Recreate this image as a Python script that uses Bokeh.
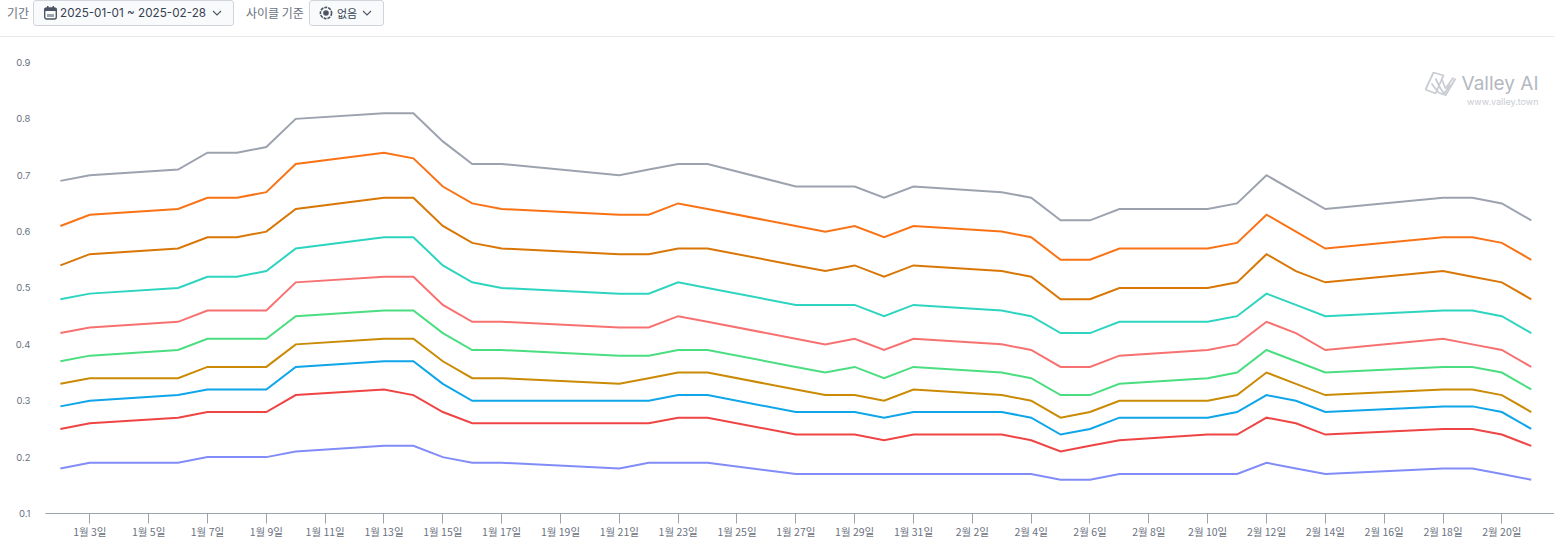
from bokeh.plotting import figure
from bokeh.models import Range1d, FixedTicker, Label, Div, LinearAxis
from bokeh.layouts import column
from bokeh.embed import file_html
from bokeh.resources import INLINE

# (month, day) of each sample
dates = [(1,2),(1,3),(1,6),(1,7),(1,8),(1,9),(1,10),(1,13),(1,14),(1,15),(1,16),(1,17),
         (1,21),(1,22),(1,23),(1,24),(1,27),(1,28),(1,29),(1,30),(1,31),
         (2,3),(2,4),(2,5),(2,6),(2,7),(2,10),(2,11),(2,12),(2,13),(2,14),(2,18),(2,19),(2,20),(2,21)]

gray = [.69,.70,.71,.74,.74,.75,.80,.81,.81,.76,.72,.72, .70,.71,.72,.72,.68,.68,.68,.66,.68, .67,.66,
        .62,.62,.64,.64,.65,.70,.67,.64,.66,.66,.65,.62]
orange = [.61,.63,.64,.66,.66,.67,.72,.74,.73,.68,.65,.64, .63,.63,.65,.64,.61,.60,.61,.59,.61, .60,.59,
          .55,.55,.57,.57,.58,.63,.60,.57,.59,.59,.58,.55]
amber = [.54,.56,.57,.59,.59,.60,.64,.66,.66,.61,.58,.57, .56,.56,.57,.57,.54,.53,.54,.52,.54, .53,.52,
         .48,.48,.50,.50,.51,.56,.53,.51,.53,.52,.51,.48]
teal = [.48,.49,.50,.52,.52,.53,.57,.59,.59,.54,.51,.50, .49,.49,.51,.50,.47,.47,.47,.45,.47, .46,.45,
        .42,.42,.44,.44,.45,.49,.47,.45,.46,.46,.45,.42]
coral = [.42,.43,.44,.46,.46,.46,.51,.52,.52,.47,.44,.44, .43,.43,.45,.44,.41,.40,.41,.39,.41, .40,.39,
         .36,.36,.38,.39,.40,.44,.42,.39,.41,.40,.39,.36]
green = [.37,.38,.39,.41,.41,.41,.45,.46,.46,.42,.39,.39, .38,.38,.39,.39,.36,.35,.36,.34,.36, .35,.34,
         .31,.31,.33,.34,.35,.39,.37,.35,.36,.36,.35,.32]
gold = [.33,.34,.34,.36,.36,.36,.40,.41,.41,.37,.34,.34, .33,.34,.35,.35,.32,.31,.31,.30,.32, .31,.30,
        .27,.28,.30,.30,.31,.35,.33,.31,.32,.32,.31,.28]
blue = [.29,.30,.31,.32,.32,.32,.36,.37,.37,.33,.30,.30, .30,.30,.31,.31,.28,.28,.28,.27,.28, .28,.27,
        .24,.25,.27,.27,.28,.31,.30,.28,.29,.29,.28,.25]
red = [.25,.26,.27,.28,.28,.28,.31,.32,.31,.28,.26,.26, .26,.26,.27,.27,.24,.24,.24,.23,.24, .24,.23,
       .21,.22,.23,.24,.24,.27,.26,.24,.25,.25,.24,.22]
periwinkle = [.18,.19,.19,.20,.20,.20,.21,.22,.22,.20,.19,.19, .18,.19,.19,.19,.17,.17,.17,.17,.17, .17,.17,
              .16,.16,.17,.17,.17,.19,.18,.17,.18,.18,.17,.16]

series = [(gray, "#9ca3af"), (orange, "#f97316"), (amber, "#d97706"), (teal, "#2dd4bf"), (coral, "#f87171"),
          (green, "#4ade80"), (gold, "#ca8a04"), (blue, "#0ea5e9"), (red, "#ef4444"), (periwinkle, "#818cf8")]

tick_dates = [(1,d) for d in range(3,32,2)] + [(2,d) for d in range(2,21,2)]
y_ticks = [.1,.2,.3,.4,.5,.6,.7,.8,.9]


def pos(md):
    """Day number counted from 1 January."""
    m, d = md
    return d if m == 1 else 31 + d


xs = [pos(d) for d in dates]

p = figure(width=1554, height=516, output_backend="svg", toolbar_location=None,
           x_range=Range1d(1.494, 52.79), y_range=Range1d(0.1, 0.9443),
           x_axis_type=None, y_axis_type=None, min_border_left=45, min_border_right=0,
           min_border_top=0, min_border_bottom=40, outline_line_color=None,
           background_fill_color="#ffffff", border_fill_color="#ffffff", margin=(0, 0, 0, 0))
p.grid.visible = False

xaxis = LinearAxis(ticker=FixedTicker(ticks=[pos(t) for t in tick_dates]),
                   major_label_overrides={pos(t): f"{t[0]}월 {t[1]}일" for t in tick_dates},
                   axis_line_color="#9ca3af", axis_line_width=1,
                   major_tick_line_color="#9ca3af", major_tick_out=10, major_tick_in=0,
                   minor_tick_line_color=None, major_label_text_color="#6b7280",
                   major_label_text_font="Noto Sans CJK KR", major_label_text_font_size="10.5px",
                   major_label_standoff=0)
p.add_layout(xaxis, "below")

yaxis = LinearAxis(ticker=FixedTicker(ticks=y_ticks), axis_line_color=None, major_tick_line_color=None,
                   minor_tick_line_color=None, major_label_text_color="#6b7280",
                   major_label_text_font="Inter", major_label_text_font_size="9.5px",
                   major_label_standoff=9)
yaxis.major_label_overrides = {t: f"{t:.1f}" for t in y_ticks}
p.add_layout(yaxis, "left")

for vals, color in series:
    p.line(xs, vals, line_color=color, line_width=2, line_join="miter")

# watermark, positioned in page pixels
p.extra_x_ranges["px"] = Range1d(45, 1554)
p.extra_y_ranges["px"] = Range1d(513, 37)
logo_c = "#c9ccd3"
logo_x = [[1425, 1433, 1443, 1435, 1425], [1435, 1440, 1445, 1455], [1431, 1438, 1443, 1450],
          [1441, 1445, 1453]]
logo_y = [[89, 72, 75, 93, 89], [78, 88, 95, 78], [83, 92, 94, 84], [78, 88, 77]]
p.multi_line(logo_x, logo_y, line_color=logo_c, line_width=1.8, x_range_name="px", y_range_name="px")
p.add_layout(Label(x=1538, y=83, text="Valley AI", text_font="Inter", text_font_size="19px",
                   text_color="#b4b8c0", text_align="right", text_baseline="middle",
                   x_range_name="px", y_range_name="px"))
p.add_layout(Label(x=1538, y=101, text="www.valley.town", text_font="Inter", text_font_size="9px",
                   text_color="#c9ccd3", text_align="right", text_baseline="middle",
                   x_range_name="px", y_range_name="px"))

chev = '<svg style="position:absolute;left:{x}px;top:10px" width="10" height="7"><path d="M1 1 L5 5 L9 1" fill="none" stroke="#4b5563" stroke-width="1.1"/></svg>'
cal = ('<svg style="position:absolute;left:44px;top:6px" width="13" height="14"><rect x="0.7" y="2" width="11.6" height="11" rx="2" fill="none" stroke="#4b5563" stroke-width="1.4"/>'
       '<rect x="0.7" y="2" width="11.6" height="3" fill="#4b5563"/><rect x="3" y="0" width="1.5" height="3" fill="#4b5563"/><rect x="8.5" y="0" width="1.5" height="3" fill="#4b5563"/>'
       '<rect x="3" y="8" width="7" height="3" fill="#9ca3af"/></svg>')
globe = ('<svg style="position:absolute;left:319px;top:6px" width="14" height="14"><circle cx="7" cy="7" r="5.6" fill="none" stroke="#4b5563" stroke-width="1.6" stroke-dasharray="3 1"/>'
         '<circle cx="7" cy="7" r="2.8" fill="#4b5563"/></svg>')
base = "position:absolute;white-space:nowrap;color:{c};font:{s}px/{h}px {f};left:{x}px;top:{t}px"
box = "position:absolute;top:0;height:26px;box-sizing:border-box;background:#f9fafb;border:1px solid #d1d5db;border-radius:3px;"
header_html = (
    '<div style="position:relative;width:1554px;height:37px;background:#fff;">'
    f'<div style="{base.format(c="#6b7280",s=12,h=26,f="Noto Sans CJK KR",x=7,t=0)}">기간</div>'
    f'<div style="{box}left:33px;width:201px"></div>'
    + cal +
    f'<div style="{base.format(c="#374151",s=11.7,h=26,f="Inter",x=60,t=0)}">2025-01-01 ~ 2025-02-28</div>'
    + chev.format(x=212) +
    f'<div style="{base.format(c="#6b7280",s=12,h=26,f="Noto Sans CJK KR",x=246,t=0)}">사이클 기준</div>'
    f'<div style="{box}left:309px;width:75px"></div>'
    + globe +
    f'<div style="{base.format(c="#374151",s=11,h=26,f="Noto Sans CJK KR",x=337,t=0)}">없음</div>'
    + chev.format(x=362) +
    '<div style="position:absolute;left:0;top:36px;width:1554px;height:1px;background:#e5e7eb"></div>'
    '</div>'
)
header = Div(text=header_html, width=1554, height=37, margin=(0, 0, 0, 0))

page = column(header, p, spacing=0, margin=(0, 0, 0, 0))
open("out.html", "w").write(file_html(page, INLINE))
